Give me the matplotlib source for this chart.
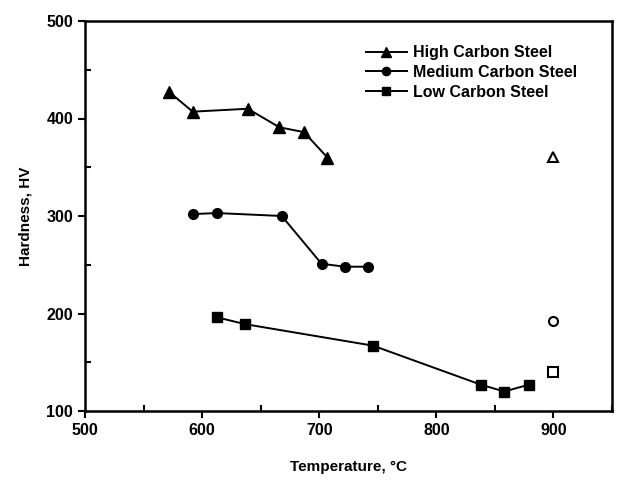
import matplotlib.pyplot as plt
from matplotlib.ticker import MultipleLocator

plt.rcParams['font.family'] = ['Liberation Sans', 'DejaVu Sans']
plt.rcParams['font.weight'] = 'bold'

# 數據
high_t = [572, 592, 639, 666, 687, 707]
high_hv = [427, 407, 410, 391, 386, 360]

med_t = [592, 613, 668, 702, 722, 742]
med_hv = [302, 303, 300, 251, 248, 248]

low_t = [613, 637, 746, 838, 858, 879]
low_hv = [196, 189, 167, 127, 120, 127]

# 900°C 空心點
open_t = [900, 900, 900]
open_hv = [361, 192, 140]
open_markers = ['^', 'o', 's']

labels = ['High Carbon Steel', 'Medium Carbon Steel', 'Low Carbon Steel']

fig = plt.figure(figsize=(6.18, 4.82), dpi=100)
ax = fig.add_axes([85 / 618, 71 / 482, 527 / 618, 390 / 482])

ax.plot(high_t, high_hv, '-^', color='black', lw=1.4, ms=8, label=labels[0])
ax.plot(med_t, med_hv, '-o', color='black', lw=1.4, ms=7, label=labels[1])
ax.plot(low_t, low_hv, '-s', color='black', lw=1.4, ms=6.5, label=labels[2])

for t, hv, m in zip(open_t, open_hv, open_markers):
    ax.plot(t, hv, m, mfc='white', mec='black', mew=1.5, ms=6.5)

ax.set_xlim(500, 950)
ax.set_ylim(100, 500)
ax.xaxis.set_major_locator(MultipleLocator(100))
ax.xaxis.set_minor_locator(MultipleLocator(50))
ax.yaxis.set_major_locator(MultipleLocator(100))
ax.yaxis.set_minor_locator(MultipleLocator(50))
ax.tick_params(which='major', direction='out', length=5, width=1.5, labelsize=11.5)
ax.tick_params(which='minor', direction='in', length=4, width=1.5)
for s in ax.spines.values():
    s.set_linewidth(1.8)

ax.set_xlabel('Temperature, °C', fontsize=11, fontweight='bold', labelpad=16)
ax.set_ylabel('Hardness, HV', fontsize=11, fontweight='bold', labelpad=10)

leg = ax.legend(loc='upper left', bbox_to_anchor=(0.505, 0.975), frameon=False,
                fontsize=11.5, handlelength=2.6, handletextpad=0.4, labelspacing=0.3,
                markerscale=0.85)

fig.savefig('out.png', dpi=100)
